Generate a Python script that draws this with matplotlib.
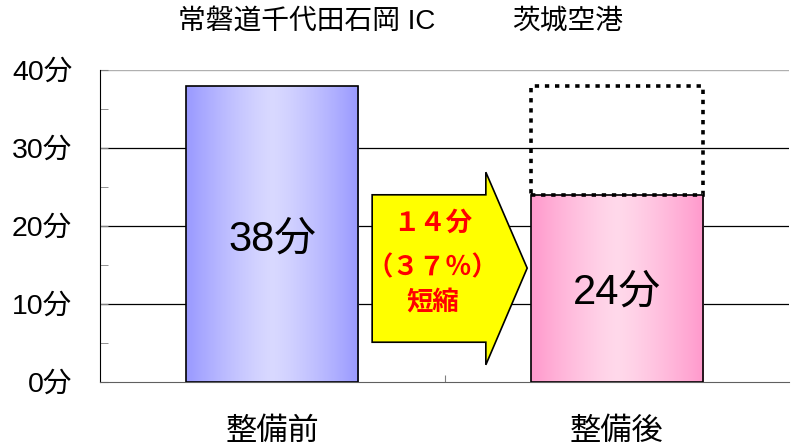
import matplotlib.pyplot as plt
import numpy as np
from matplotlib.patches import Polygon

plt.rcParams['font.family'] = ['Liberation Sans', 'Noto Sans CJK JP', 'DejaVu Sans']

categories = ["整備前", "整備後"]
minutes = [38, 24]
before_minutes = 38
places = ["常磐道千代田石岡 IC", "茨城空港"]
yticks = [0, 10, 20, 30, 40]
ytick_labels = ["0分", "10分", "20分", "30分", "40分"]
arrow_lines = ["１４分", "（３７％）", "短縮"]

edge_cols = [(0.60, 0.60, 1.00), (1.00, 0.60, 0.80)]
mid_cols = [(0.85, 0.85, 1.00), (1.00, 0.85, 0.92)]

fig = plt.figure(figsize=(7.91, 4.46), dpi=100)
ax = fig.add_axes([100 / 791, 64 / 446, 689 / 791, 312 / 446])

x = np.arange(len(categories))
bars = ax.bar(x, minutes, width=0.5, edgecolor="black", linewidth=1.2, facecolor="none", zorder=3)

# gradient fill, clipped to each bar
t = np.linspace(0, 1, 256)
w = np.abs(t - 0.5) * 2
for b, c0, c1 in zip(bars, edge_cols, mid_cols):
    grad = np.zeros((1, 256, 3))
    for k in range(3):
        grad[0, :, k] = c1[k] + (c0[k] - c1[k]) * w ** 1.3
    bx, by = b.get_x(), b.get_y()
    im = ax.imshow(grad, extent=[bx, bx + b.get_width(), by, by + b.get_height()],
                   aspect="auto", zorder=2)
    im.set_clip_path(b)

# dotted outline of the old time on the second bar
ax.bar(x[1], before_minutes - minutes[1], bottom=minutes[1], width=0.5,
       facecolor="none", edgecolor="black", linestyle=(0, (1.2, 1.6)), linewidth=2.6, zorder=4)

for xi, v in zip(x, minutes):
    ax.text(xi, v * 0.48, f"{v}分", ha="center", va="center", fontsize=30, zorder=5)

# reduction arrow
arrow = Polygon([(0.29, 5.1), (0.62, 5.1), (0.62, 2.2), (0.74, 14.6),
                 (0.62, 26.9), (0.62, 24.0), (0.29, 24.0)],
                closed=True, facecolor="#ffff00", edgecolor="black", linewidth=1.2, zorder=5)
ax.add_patch(arrow)
for yv, s in zip([20.4, 14.6, 10.3], arrow_lines):
    ax.text(0.465, yv, s, ha="center", va="center", color="red", fontsize=19,
            fontweight="bold", family=['Noto Sans CJK JP', 'DejaVu Sans'], zorder=6)

ax.set_xlim(-0.5, 1.5)
ax.set_ylim(0, 40)
ax.set_yticks(yticks)
ax.set_yticklabels(ytick_labels, fontsize=20.5)
ax.set_yticks([5, 15, 25, 35], minor=True)
ax.tick_params(axis="y", which="both", direction="in", length=6, color="#808080", pad=20)
ax.set_xticks([0.5])
ax.set_xticklabels([""])
ax.tick_params(axis="x", direction="in", length=5, color="#808080")
ax.set_xticks(x, minor=True)
ax.set_xticklabels(categories, minor=True, fontsize=22.5)
ax.tick_params(axis="x", which="minor", length=0, pad=25)

for yv in yticks[1:-1]:
    ax.axhline(yv, color="black", linewidth=0.9, zorder=1)
ax.axhline(40, color="#b0b0b0", linewidth=1.0, zorder=1)

for s in ["top", "right"]:
    ax.spines[s].set_visible(False)
ax.spines["left"].set_color("black")
ax.spines["bottom"].set_color("#606060")

fig.text(307 / 791, 1 - 22 / 446, places[0], ha="center", va="center", fontsize=20)
fig.text(568 / 791, 1 - 22 / 446, places[1], ha="center", va="center", fontsize=20)

fig.savefig("out.png", dpi=100)
